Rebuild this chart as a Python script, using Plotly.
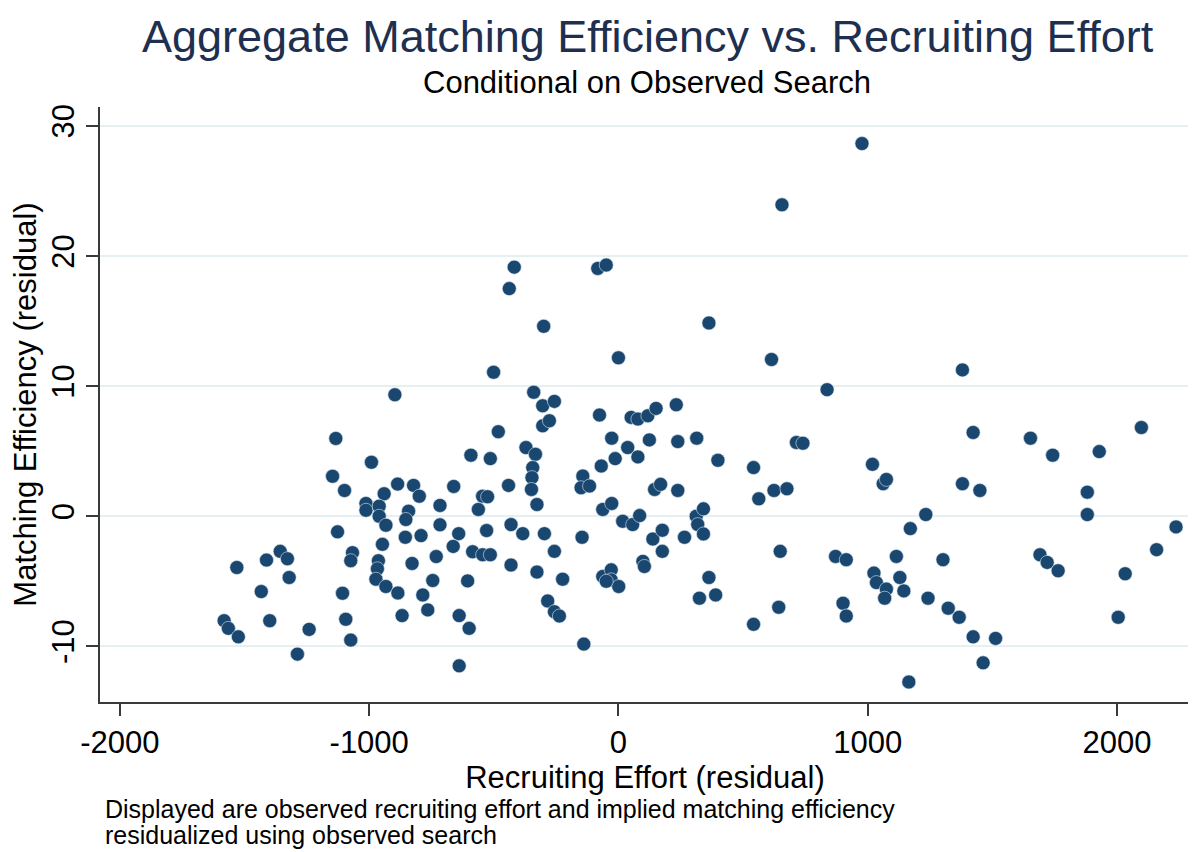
import plotly.graph_objects as go

# Recruiting effort residual (x) and matching efficiency residual (y)
recruiting_effort = [
    -897, -1134, -482, -991, -592, -514, -1147, -1099, -886, -822, -799, -940,
    -1013, -1013, -960, -960, -933, -842, -853, -661, -716, -716, -545, -525,
    -562, -529, -641, -663, -1127, -947, -855, -792, -1067, -1074, -963, -967,
    -973, -933, -885, -828, -731, -585, -545, -514, -745, -605, -785, -765,
    -868, -639, -599, -639, -1531, -1412, -1357, -1328, -1321, -1433, -1582, -1565,
    -1525, -1399, -1241, -1288, -1107, -1094, -1074,
    -340, -304, -257, -304, -277, -371, -333, -344, -347, -349, -327, -441,
    -431, -384, -297, -257, -431, -327, -224, -284, -257, -237, -139, -146,
    -76, -27, -69, -13, 37, 78, 51, 78, 118, 151, 232, 124, 238, 314, 399,
    542, 563, -143, -150, -116, -63, -27, 17, 57, 85, 145, 169, 238, 138, 176,
    176, 265, 312, 341, 318, 341, 98, 104, -63, -29, -29, 1, -49, 363, 325, 390, 542,
    624, 676, 837, 714, 740, 1019, 1062, 1075, 1423, 1653, 1742, 1380, 1450, 1233,
    1171, 649, 871, 914, 1115, 1302, 1025, 1035, 1075, 1068, 1129, 1145, 1242,
    1323, 1367, 1423, 1513, 1463, 1165, 643, 901, 914, 1691, 1720, 1764,
    1929, 2098, 1881, 1881, 2237, 2159, 2033, 2005,
    656, -418, -438, -83, -49, -300, 363, 0, -501, 614, 977, 1380,
]
matching_efficiency = [
    9.34, 5.98, 6.5, 4.15, 4.69, 4.43, 3.07, 1.98, 2.47, 2.37, 1.54, 1.73,
    0.98, 0.46, 0.77, 0.0, -0.69, 0.39, -0.25, 2.29, 0.83, -0.66, 1.54, 1.5,
    0.52, -1.1, -1.34, -2.32, -1.2, -2.16, -1.62, -1.49, -2.8, -3.42, -3.42, -4.04,
    -4.84, -5.4, -5.9, -3.63, -3.1, -2.73, -2.96, -2.96, -4.94, -4.97, -6.05, -7.2,
    -7.64, -7.64, -8.62, -11.5, -3.94, -3.37, -2.7, -3.27, -4.71, -5.79, -8.03, -8.62,
    -9.27, -8.03, -8.7, -10.6, -5.92, -7.92, -9.52,
    9.53, 8.49, 8.83, 6.95, 7.34, 5.28, 4.76, 3.74, 2.97, 2.06, 0.9, 2.37,
    -0.64, -1.34, -1.34, -2.7, -3.75, -4.29, -4.84, -6.51, -7.34, -7.67, -9.83, -1.62,
    7.78, 6.0, 3.86, 4.43, 5.28, 4.56, 7.6, 7.47, 7.72, 8.29, 8.57, 5.87, 5.74, 6.0, 4.3,
    3.74, 1.34, 3.09, 2.19, 2.32, 0.52, 0.98, -0.39, -0.64, 0.05, 2.06, 2.45, 1.98, -1.75, -1.08,
    -2.7, -1.62, 0.0, 0.57, -0.64, -1.36, -3.47, -3.86, -4.63, -4.12, -4.89, -5.4, -5.0, -4.71, -6.3, -6.05, -8.31,
    1.98, 2.11, 9.73, 5.67, 5.61, 3.99, 2.5, 2.83, 6.44, 6.0, 4.69, 2.5, 1.98, 0.13,
    -0.95, -2.7, -3.09, -3.34, -3.09, -3.34, -4.37, -5.1, -5.6, -6.3, -4.71, -5.74, -6.3,
    -7.07, -7.77, -9.27, -9.39, -11.27, -12.74, -7.0, -6.69, -7.67, -2.96, -3.55, -4.19,
    4.97, 6.82, 1.85, 0.13, -0.82, -2.57, -4.42, -7.77,
    23.94, 19.15, 17.5, 19.05, 19.31, 14.6, 14.86, 12.18, 11.07, 12.05, 28.65, 11.25,
]

x_ticks = [-2000, -1000, 0, 1000, 2000]
y_ticks = [-10, 0, 10, 20, 30]

title_text = "Aggregate Matching Efficiency vs. Recruiting Effort"
subtitle_text = "Conditional on Observed Search"
x_title = "Recruiting Effort (residual)"
y_title = "Matching Efficiency (residual)"
note_lines = ["Displayed are observed recruiting effort and implied matching efficiency",
              "residualized using observed search"]

FONT = "Liberation Sans, Arial, sans-serif"
NAVY = "#1a476f"
AXIS = "#3a3a3a"

# the page body adds an 8px offset; the figure is sized to fill the rest
OFF = 8
W, H = 1196 - OFF, 852 - OFF
L, R, T, B = 100 - OFF, 6, 107 - OFF, 852 - 702
pw, ph = W - L - R, H - T - B
def px_x(p):
    return (p - OFF - L) / pw
def px_y(p):
    return (H - B - (p - OFF)) / ph

fig = go.Figure()
fig.add_trace(go.Scatter(
    x=recruiting_effort, y=matching_efficiency, mode="markers",
    marker=dict(size=14, color=NAVY, line=dict(width=0.6, color="#dce6ee")),
    showlegend=False,
))

fig.update_layout(
    width=W, height=H,
    margin=dict(l=L, r=R, t=T, b=B),
    paper_bgcolor="white", plot_bgcolor="white",
    font=dict(family=FONT, color="black"),
    xaxis=dict(
        range=[-2080, 2293], tickvals=x_ticks, ticktext=[str(v) for v in x_ticks],
        showgrid=False, zeroline=False, showline=True, linecolor=AXIS, linewidth=1.5,
        ticks="outside", ticklen=12, tickcolor=AXIS, tickwidth=1.5,
        tickfont=dict(size=31, family=FONT, color="black"),
        automargin=False,
        title=dict(text=x_title, font=dict(size=31, family=FONT, color="black"), standoff=0),
    ),
    yaxis=dict(
        range=[-14.28, 31.46], tickvals=y_ticks, ticktext=[str(v) for v in y_ticks],
        tickangle=-90,
        showgrid=True, gridcolor="#e6eff1", gridwidth=2, zeroline=False,
        showline=True, linecolor=AXIS, linewidth=1.5,
        ticks="outside", ticklen=12, tickcolor=AXIS, tickwidth=1.5,
        tickfont=dict(size=31, family=FONT, color="black"),
        automargin=False,
        title=dict(text=y_title, font=dict(size=31, family=FONT, color="black"), standoff=0),
    ),
    annotations=[
        dict(text=title_text, x=px_x(648), y=px_y(37), xref="paper", yref="paper",
             xanchor="center", yanchor="middle", showarrow=False,
             font=dict(size=45, family=FONT, color="#1e2f4f")),
        dict(text=subtitle_text, x=px_x(647), y=px_y(83), xref="paper", yref="paper",
             xanchor="center", yanchor="middle", showarrow=False,
             font=dict(size=31, family=FONT, color="black")),
        dict(text=note_lines[0], x=px_x(103), y=px_y(809), xref="paper", yref="paper",
             xanchor="left", yanchor="middle", showarrow=False,
             font=dict(size=25, family=FONT, color="black")),
        dict(text=note_lines[1], x=px_x(103), y=px_y(835), xref="paper", yref="paper",
             xanchor="left", yanchor="middle", showarrow=False,
             font=dict(size=25, family=FONT, color="black")),
    ],
)

fig.write_html("out.html")
